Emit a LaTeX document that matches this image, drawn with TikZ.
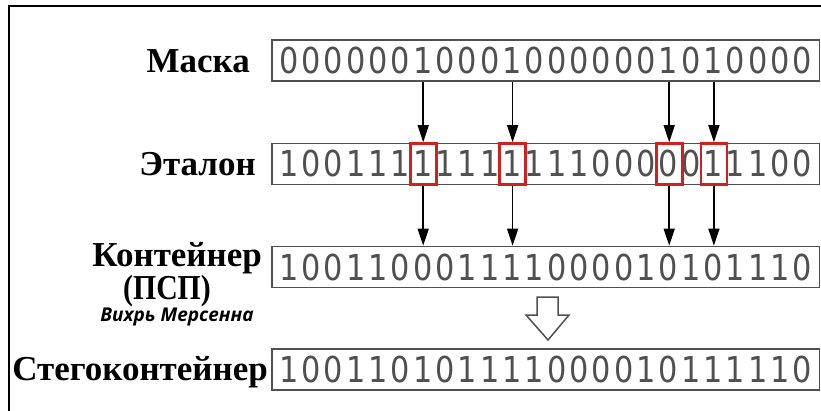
\documentclass[tikz,border=0pt]{standalone}
\usepackage{fontspec}
\setmainfont{Liberation Serif}
\newfontfamily\bitfont[FakeStretch=0.85, LetterSpace=8.5]{DejaVu Sans}
\newfontfamily\notefont{Open Sans}
\usetikzlibrary{arrows.meta}
\definecolor{bitgray}{HTML}{505050}
\definecolor{boxgray}{HTML}{505050}
\definecolor{markred}{HTML}{D41F1F}
\tikzset{
  bitbox/.style={draw=boxgray, line width=1.7pt, minimum width=547.5pt,
    minimum height=41pt, inner sep=0pt, text=bitgray,
    font=\bitfont\fontsize{35.7pt}{36pt}\selectfont},
  markbox/.style={draw=markred, line width=2.6pt, minimum width=26pt,
    minimum height=41pt, inner sep=0pt},
  rowlabel/.style={anchor=base east, inner sep=0pt,
    font=\bfseries\fontsize{35pt}{36pt}\selectfont},
  notelabel/.style={anchor=base, inner sep=0pt,
    font=\notefont\bfseries\itshape\fontsize{19pt}{20pt}\selectfont},
  arr/.style={line width=1.5pt, -{Triangle[length=17pt, width=11pt]}},
  hollow/.style={draw=boxgray, line width=1.5pt, fill=white, line join=miter},
}
\begin{document}
\begin{tikzpicture}[x=1pt, y=-1pt]
\useasboundingbox (0,0) rectangle (821,410);
% outer frame (left and top edges)
\draw[line width=2.2pt] (9.2,412) -- (9.2,6.1) -- (823,6.1);

% bit rows
\node[bitbox] (mask) at (545.75,60.5)  {000000100010000001010000};
\node[bitbox] (etal) at (545.75,164)   {100111111111110000011100};
\node[bitbox] (cont) at (545.75,267)   {100110001111000010101110};
\node[bitbox] (steg) at (545.75,369.5) {100110101111000010111110};

% row labels
\node[rowlabel] (lmask) at (250,72)  {Маска};
\node[rowlabel] (letal) at (256,175.5) {Эталон};
\node[rowlabel] (lcont) at (262,266)   {Контейнер};
\node[rowlabel, anchor=base] (lpsp) at (167,299.5) {\scalebox{0.85}[1]{(ПСП)}};
\node[notelabel] (lmt) at (177,321)    {Вихрь Мерсенна};
\node[rowlabel] (lsteg) at (268,380)   {Стегоконтейнер};

% marked bits of the reference row
\node[markbox] (m7)  at (423.2,164) {};
\node[markbox] (m11) at (512.6,164) {};
\node[markbox] (m18) at (669.2,164) {};
\node[markbox] (m20) at (713.9,164) {};

% mask bits select reference bits, which go into the container
\foreach \m in {m7,m11,m18,m20}{
  \draw[arr] (mask.south -| \m) -- (\m.north);
  \draw[arr] (\m.south) -- (cont.north -| \m);
}

% result arrow
\filldraw[hollow] (537,297) -- (558,297) -- (558,315) -- (569,315)
  -- (548,340) -- (526,315) -- (537,315) -- cycle;
\end{tikzpicture}
\end{document}
